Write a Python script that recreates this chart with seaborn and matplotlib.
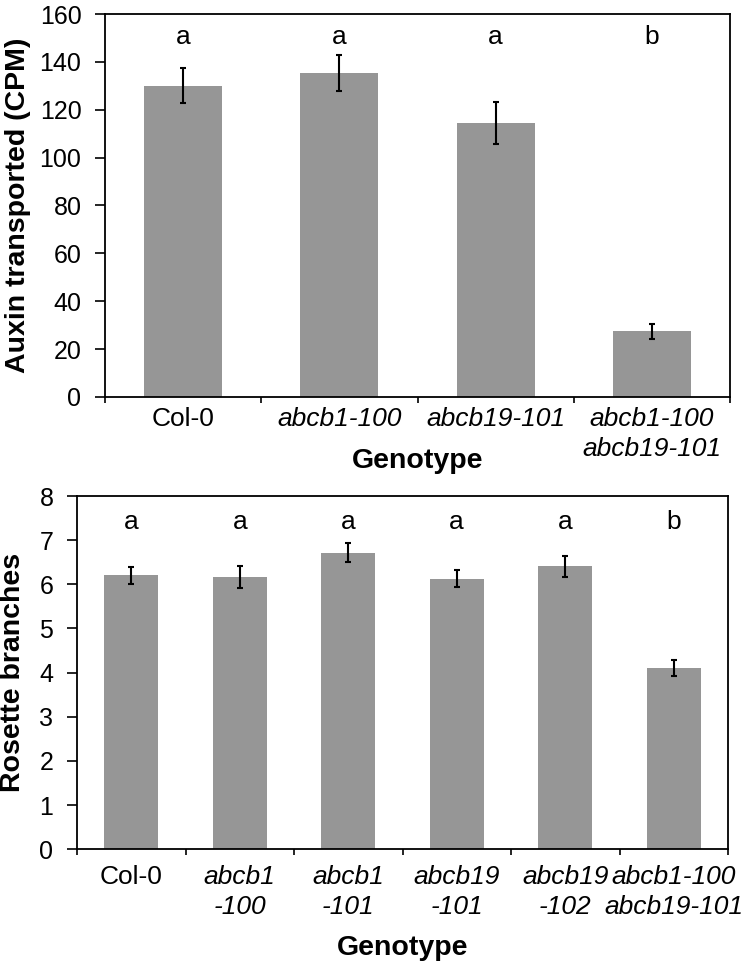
#Importing Libraries
import numpy as np
import pandas as pd
import matplotlib
matplotlib.use("Agg")
import matplotlib.pyplot as plt
import seaborn as sns

sns.set_style("ticks")
plt.rcParams['font.family'] = ['Liberation Sans', 'DejaVu Sans']
plt.rcParams['text.color'] = 'black'
plt.rcParams['axes.labelcolor'] = 'black'
plt.rcParams['xtick.color'] = 'black'
plt.rcParams['ytick.color'] = 'black'

#Auxin transport data
auxin_genotypes = ["Col-0", "abcb1-100", "abcb19-101", "abcb1-100\nabcb19-101"]
auxin_italic = [False, True, True, True]
auxin_mean = [130.0, 135.2, 114.5, 27.4]
auxin_err = [7.3, 7.5, 8.8, 3.2]
auxin_letters = ["a", "a", "a", "b"]

#Rosette branch data
branch_genotypes = ["Col-0", "abcb1\n-100", "abcb1\n-101", "abcb19\n-101", "abcb19\n-102",
                    "abcb1-100\nabcb19-101"]
branch_italic = [False, True, True, True, True, True]
branch_mean = [6.20, 6.17, 6.72, 6.13, 6.41, 4.11]
branch_err = [0.19, 0.25, 0.21, 0.19, 0.24, 0.18]
branch_letters = ["a", "a", "a", "a", "a", "b"]

BAR_COLOR = "#969696"
W, H = 743, 961

fig = plt.figure(figsize=(W / 100, H / 100), dpi=100)
ax1 = fig.add_axes([105 / W, 1 - 397 / H, 625 / W, 383 / H])
ax2 = fig.add_axes([77 / W, 1 - 849.3 / H, 651 / W, 353.3 / H])


def draw_panel(ax, genotypes, italic, mean, err, letters, ymax, ystep, letter_y,
               ylabel, ylabel_x, xlabel_y, xpad):
    df = pd.DataFrame({"genotype": genotypes, "value": mean})
    sns.barplot(data=df, x="genotype", y="value", color=BAR_COLOR, saturation=1,
                width=0.5, errorbar=None, linewidth=0, ax=ax)
    x = np.arange(len(genotypes))
    ax.errorbar(x, mean, yerr=err, fmt="none", ecolor="black", elinewidth=1.5,
                capsize=2.5, capthick=1.5)
    for xi, letter in zip(x, letters):
        ax.text(xi, letter_y, letter, ha="center", va="center", fontsize=19)

    ax.set_xlim(-0.5, len(genotypes) - 0.5)
    ax.set_ylim(0, ymax)
    ax.set_yticks(np.arange(0, ymax + ystep / 2, ystep))
    ax.set_xticks(x)
    ax.set_xticklabels(genotypes, linespacing=1.3)
    for lab, it in zip(ax.get_xticklabels(), italic):
        lab.set_fontstyle("italic" if it else "normal")
    ax.set_xticks(np.arange(-0.5, len(genotypes)), minor=True)
    ax.tick_params(axis="x", which="major", length=0, pad=xpad, labelsize=19)
    ax.tick_params(axis="x", which="minor", length=4, width=1.2, direction="out")
    ax.tick_params(axis="y", length=7, width=1.2, pad=10, labelsize=18, direction="out")

    for s in ax.spines.values():
        s.set_visible(True)
        s.set_color("black")
        s.set_linewidth(1.3)

    ax.set_ylabel(ylabel, fontsize=20.5, fontweight="bold", va="center")
    ax.yaxis.set_label_coords(ylabel_x, 0.5)
    ax.set_xlabel("Genotype", fontsize=20.5, fontweight="bold", va="center")
    ax.xaxis.set_label_coords(0.5, xlabel_y)


draw_panel(ax1, auxin_genotypes, auxin_italic, auxin_mean, auxin_err, auxin_letters,
           160, 20, 150.5, "Auxin transported (CPM)", (18 - 105) / 625, (397 - 461) / 383,
           7.5)
draw_panel(ax2, branch_genotypes, branch_italic, branch_mean, branch_err, branch_letters,
           8, 1, 7.42, "Rosette branches", (13 - 77) / 651, (849.3 - 948) / 353.3,
           11.5)

fig.savefig("out.png", dpi=100)
